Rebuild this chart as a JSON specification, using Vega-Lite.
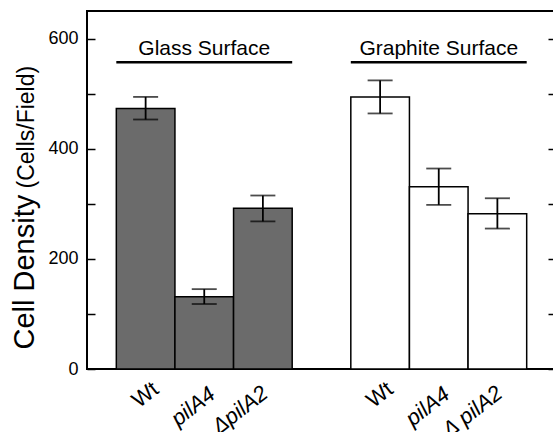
{
  "$schema": "https://vega.github.io/schema/vega-lite/v6.json",
  "width": 469,
  "height": 358,
  "autosize": "none",
  "padding": {"left": 87, "top": 11, "right": 0, "bottom": 63},
  "background": "white",
  "config": {
    "font": "Liberation Sans",
    "view": {"stroke": "black", "strokeWidth": 2},
    "axisX": {"labelFontSize": 22, "labelColor": "black"}
  },
  "datasets": {
    "bars": [
      {"id": "gWt", "surface": "Glass", "value": 473, "lo": 453, "hi": 494},
      {"id": "gpilA4", "surface": "Glass", "value": 131, "lo": 118, "hi": 145},
      {"id": "gdpilA2", "surface": "Glass", "value": 292, "lo": 268, "hi": 315},
      {"id": "cWt", "surface": "Graphite", "value": 494, "lo": 464, "hi": 524},
      {"id": "cpilA4", "surface": "Graphite", "value": 331, "lo": 298, "hi": 364},
      {"id": "cdpilA2", "surface": "Graphite", "value": 282, "lo": 255, "hi": 310}
    ],
    "groups": [
      {"label": "Glass Surface", "first": "gWt", "mid": "gpilA4", "last": "gdpilA2"},
      {"label": "Graphite Surface", "first": "cWt", "mid": "cpilA4", "last": "cdpilA2"}
    ]
  },
  "layer": [
    {
      "data": {"name": "bars"},
      "mark": {"type": "bar", "stroke": "black", "strokeWidth": 1.5},
      "encoding": {
        "x": {
          "field": "id", "type": "nominal",
          "scale": {"type": "band", "domain": ["gWt", "gpilA4", "gdpilA2", "gap", "cWt", "cpilA4", "cdpilA2"], "paddingInner": 0, "paddingOuter": 0.5},
          "axis": {
            "title": null, "ticks": false, "domain": false, "grid": false,
            "labelAngle": -38, "labelAlign": "right", "labelBaseline": "top",
            "labelFontSize": 22, "labelColor": "black",
            "labelFontStyle": {"condition": {"test": "indexof(datum.value, 'Wt') >= 0", "value": "normal"}, "value": "italic"},
            "labelOffset": {"condition": [{"test": "indexof(datum.value, 'Wt') >= 0", "value": 4}, {"test": "indexof(datum.value, 'pilA4') >= 0", "value": 2}], "value": -4},
            "labelPadding": {"condition": [{"test": "indexof(datum.value, 'Wt') >= 0", "value": 9}, {"test": "indexof(datum.value, 'pilA4') >= 0", "value": 14}], "value": 13},
            "labelExpr": "(datum.value == 'gWt' || datum.value == 'cWt') ? 'Wt' : (datum.value == 'gpilA4' || datum.value == 'cpilA4') ? 'pilA4' : datum.value == 'gdpilA2' ? 'ΔpilA2' : datum.value == 'cdpilA2' ? 'Δ pilA2' : ''"
          }
        },
        "y": {
          "field": "value", "type": "quantitative",
          "scale": {"domain": [0, 650], "nice": false, "zero": true},
          "axis": {
            "orient": "left", "title": "Cell Density",
            "titleFontSize": 29, "titleFontWeight": "normal", "titleColor": "black",
            "titleAngle": -90, "titleAlign": "left", "titleBaseline": "alphabetic",
            "titleX": -54, "titleY": 338,
            "values": [0, 100, 200, 300, 400, 500, 600],
            "labelExpr": "datum.value % 200 === 0 ? datum.label : ''",
            "labelFontSize": 18, "labelColor": "black", "labelPadding": 17,
            "tickSize": -8, "tickWidth": 1.5, "tickColor": "black",
            "domain": false, "grid": false
          }
        },
        "fill": {"field": "surface", "type": "nominal", "scale": {"domain": ["Glass", "Graphite"], "range": ["#6b6b6b", "#ffffff"]}, "legend": null}
      }
    },
    {
      "data": {"name": "bars"},
      "mark": {"type": "errorbar", "ticks": {"size": 25}, "thickness": 1.8, "color": "black"},
      "encoding": {
        "x": {
          "field": "id", "type": "nominal",
          "scale": {"type": "band", "domain": ["gWt", "gpilA4", "gdpilA2", "gap", "cWt", "cpilA4", "cdpilA2"], "paddingInner": 0, "paddingOuter": 0.5}
        },
        "y": {
          "field": "lo", "type": "quantitative",
          "scale": {"domain": [0, 650], "nice": false, "zero": true},
          "axis": {
            "orient": "left", "title": "(Cells/Field)",
            "titleFontSize": 23, "titleFontWeight": "normal", "titleColor": "black",
            "titleAngle": -90, "titleAlign": "left", "titleBaseline": "alphabetic",
            "titleX": -54, "titleY": 177,
            "labels": false, "ticks": false, "domain": false, "grid": false
          }
        },
        "y2": {"field": "hi"}
      }
    },
    {
      "data": {"name": "groups"},
      "mark": {"type": "text", "fontSize": 21, "baseline": "alphabetic", "align": "center", "color": "black"},
      "encoding": {
        "x": {
          "field": "mid", "type": "nominal",
          "scale": {"type": "band", "domain": ["gWt", "gpilA4", "gdpilA2", "gap", "cWt", "cpilA4", "cdpilA2"], "paddingInner": 0, "paddingOuter": 0.5}
        },
        "y": {"datum": 570, "type": "quantitative", "scale": {"domain": [0, 650], "nice": false, "zero": true}, "axis": null},
        "text": {"field": "label"}
      }
    },
    {
      "data": {"name": "groups"},
      "mark": {"type": "rule", "strokeWidth": 2.5, "color": "black"},
      "encoding": {
        "x": {
          "field": "first", "type": "nominal", "bandPosition": 0,
          "scale": {"type": "band", "domain": ["gWt", "gpilA4", "gdpilA2", "gap", "cWt", "cpilA4", "cdpilA2"], "paddingInner": 0, "paddingOuter": 0.5}
        },
        "x2": {"field": "last", "bandPosition": 1},
        "y": {
          "datum": 557, "type": "quantitative",
          "scale": {"domain": [0, 650], "nice": false, "zero": true},
          "axis": {
            "orient": "right", "title": null, "labels": false,
            "values": [0, 100, 200, 300, 400, 500, 600],
            "tickSize": -8, "tickWidth": 1.5, "tickColor": "black",
            "domain": false, "grid": false
          }
        }
      }
    }
  ],
  "resolve": {"axis": {"y": "independent"}}
}
